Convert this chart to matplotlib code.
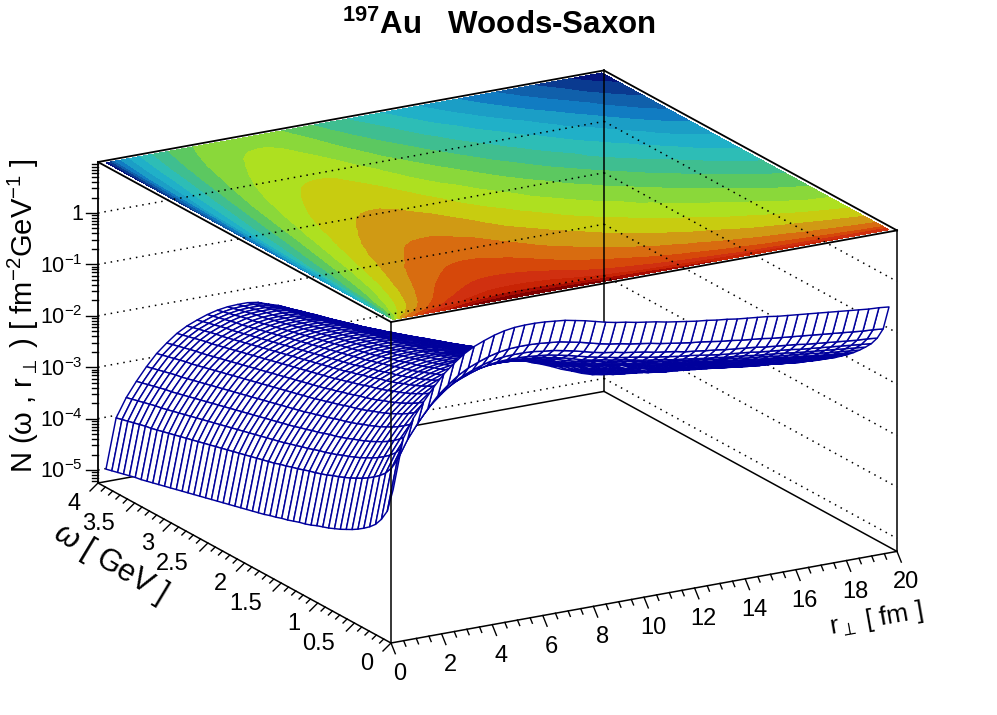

import matplotlib

matplotlib.use("Agg")
import matplotlib.pyplot as plt
import numpy as np
from matplotlib.collections import PolyCollection

r_bins = [0.2, 0.6, 1.0, 1.4, 1.8, 2.2, 2.6, 3.0, 3.4, 3.8, 4.2, 4.6, 5.0, 5.4, 5.8, 6.2, 6.6, 7.0, 7.4, 7.8,
          8.2, 8.6, 9.0, 9.4, 9.8, 10.2, 10.6, 11.0, 11.4, 11.8, 12.2, 12.6, 13.0, 13.4, 13.8, 14.2, 14.6, 15.0, 15.4, 15.8,
          16.2, 16.6, 17.0, 17.4, 17.8, 18.2, 18.6, 19.0, 19.4, 19.8]
w_bins = [0.04, 0.12, 0.20, 0.28, 0.36, 0.44, 0.52, 0.60, 0.68, 0.76, 0.84, 0.92, 1.00, 1.08, 1.16, 1.24, 1.32, 1.40, 1.48, 1.56,
          1.64, 1.72, 1.80, 1.88, 1.96, 2.04, 2.12, 2.20, 2.28, 2.36, 2.44, 2.52, 2.60, 2.68, 2.76, 2.84, 2.92, 3.00, 3.08, 3.16,
          3.24, 3.32, 3.40, 3.48, 3.56, 3.64, 3.72, 3.80, 3.88, 3.96]

# log10 N, one row per omega bin, one column per r bin
log_n = [
    [-2.32,-1.36,-1.00,-.72,-.47,-.25,-.08,.07,.18,.26,.33,.38,.41,.42,.42,.41,.39,.37,.33,.29,.24,.19,.15,.12,.08,.05,.02,-.02,-.05,-.08,-.11,-.13,-.16,-.18,-.21,-.23,-.25,-.27,-.30,-.32,-.34,-.36,-.38,-.40,-.42,-.44,-.46,-.48,-.49,-.51],
    [-2.80,-1.84,-1.48,-1.20,-.95,-.73,-.56,-.41,-.30,-.22,-.15,-.10,-.07,-.06,-.06,-.07,-.09,-.11,-.15,-.19,-.24,-.29,-.33,-.36,-.40,-.43,-.46,-.50,-.53,-.56,-.59,-.61,-.64,-.67,-.69,-.72,-.74,-.76,-.79,-.81,-.83,-.85,-.87,-.89,-.91,-.93,-.95,-.97,-.98,-1.00],
    [-3.02,-2.06,-1.70,-1.42,-1.17,-.95,-.78,-.63,-.52,-.44,-.37,-.32,-.29,-.28,-.28,-.29,-.32,-.34,-.38,-.42,-.47,-.52,-.56,-.59,-.63,-.66,-.69,-.73,-.76,-.79,-.83,-.85,-.88,-.90,-.93,-.95,-.97,-.99,-1.02,-1.04,-1.06,-1.08,-1.11,-1.13,-1.15,-1.17,-1.19,-1.21,-1.22,-1.24],
    [-3.18,-2.22,-1.86,-1.58,-1.33,-1.11,-.94,-.79,-.68,-.60,-.53,-.48,-.45,-.44,-.44,-.45,-.47,-.49,-.53,-.57,-.62,-.67,-.71,-.75,-.79,-.82,-.85,-.89,-.92,-.95,-.98,-1.00,-1.03,-1.06,-1.09,-1.11,-1.13,-1.15,-1.18,-1.20,-1.22,-1.24,-1.27,-1.29,-1.31,-1.33,-1.35,-1.37,-1.39,-1.41],
    [-3.29,-2.33,-1.97,-1.69,-1.44,-1.22,-1.05,-.90,-.79,-.71,-.64,-.59,-.56,-.55,-.55,-.56,-.58,-.60,-.64,-.68,-.73,-.79,-.83,-.86,-.90,-.93,-.97,-1.01,-1.04,-1.07,-1.11,-1.13,-1.16,-1.19,-1.21,-1.24,-1.26,-1.28,-1.31,-1.33,-1.35,-1.37,-1.40,-1.42,-1.44,-1.46,-1.48,-1.50,-1.52,-1.54],
    [-3.38,-2.42,-2.06,-1.78,-1.53,-1.31,-1.14,-.99,-.88,-.80,-.73,-.68,-.65,-.64,-.64,-.65,-.67,-.69,-.73,-.77,-.83,-.88,-.92,-.95,-1.00,-1.03,-1.06,-1.10,-1.14,-1.17,-1.20,-1.23,-1.26,-1.28,-1.31,-1.34,-1.36,-1.39,-1.42,-1.44,-1.46,-1.49,-1.51,-1.53,-1.55,-1.58,-1.60,-1.62,-1.64,-1.66],
    [-3.46,-2.50,-2.14,-1.86,-1.61,-1.39,-1.22,-1.07,-.96,-.88,-.81,-.76,-.73,-.72,-.72,-.73,-.75,-.78,-.82,-.86,-.92,-.97,-1.01,-1.05,-1.09,-1.12,-1.16,-1.20,-1.23,-1.26,-1.30,-1.32,-1.36,-1.38,-1.41,-1.44,-1.46,-1.49,-1.52,-1.55,-1.57,-1.59,-1.62,-1.64,-1.66,-1.69,-1.71,-1.73,-1.75,-1.77],
    [-3.53,-2.57,-2.21,-1.93,-1.68,-1.46,-1.29,-1.14,-1.03,-.95,-.88,-.83,-.80,-.79,-.79,-.80,-.82,-.85,-.89,-.94,-.99,-1.04,-1.09,-1.12,-1.17,-1.20,-1.23,-1.28,-1.31,-1.35,-1.38,-1.41,-1.44,-1.46,-1.50,-1.52,-1.55,-1.57,-1.61,-1.63,-1.66,-1.68,-1.71,-1.73,-1.76,-1.78,-1.81,-1.83,-1.85,-1.87],
    [-3.59,-2.63,-2.27,-1.99,-1.74,-1.52,-1.35,-1.20,-1.09,-1.01,-.94,-.89,-.86,-.85,-.85,-.86,-.88,-.91,-.95,-1.00,-1.05,-1.11,-1.15,-1.19,-1.23,-1.27,-1.30,-1.35,-1.38,-1.42,-1.45,-1.48,-1.51,-1.54,-1.58,-1.60,-1.63,-1.66,-1.69,-1.72,-1.74,-1.77,-1.80,-1.82,-1.85,-1.88,-1.90,-1.92,-1.94,-1.96],
    [-3.65,-2.69,-2.33,-2.05,-1.80,-1.58,-1.41,-1.26,-1.15,-1.07,-1.00,-.95,-.92,-.91,-.91,-.92,-.94,-.97,-1.02,-1.06,-1.12,-1.17,-1.21,-1.25,-1.30,-1.33,-1.37,-1.41,-1.45,-1.49,-1.52,-1.55,-1.59,-1.62,-1.65,-1.68,-1.71,-1.73,-1.77,-1.80,-1.82,-1.85,-1.88,-1.91,-1.93,-1.96,-1.99,-2.01,-2.03,-2.05],
    [-3.70,-2.74,-2.38,-2.10,-1.85,-1.63,-1.46,-1.31,-1.20,-1.12,-1.05,-1.00,-.97,-.96,-.96,-.97,-1.00,-1.02,-1.07,-1.12,-1.17,-1.23,-1.27,-1.31,-1.36,-1.39,-1.43,-1.47,-1.51,-1.55,-1.59,-1.62,-1.65,-1.68,-1.72,-1.74,-1.78,-1.80,-1.84,-1.87,-1.90,-1.93,-1.96,-1.99,-2.01,-2.04,-2.07,-2.10,-2.11,-2.13],
    [-3.75,-2.79,-2.43,-2.15,-1.90,-1.68,-1.51,-1.36,-1.25,-1.17,-1.10,-1.05,-1.02,-1.01,-1.01,-1.02,-1.05,-1.07,-1.12,-1.17,-1.22,-1.28,-1.32,-1.36,-1.41,-1.44,-1.48,-1.53,-1.57,-1.60,-1.64,-1.67,-1.71,-1.74,-1.78,-1.81,-1.84,-1.87,-1.91,-1.94,-1.97,-2.00,-2.03,-2.06,-2.09,-2.12,-2.15,-2.18,-2.19,-2.21],
    [-3.79,-2.83,-2.47,-2.19,-1.94,-1.72,-1.55,-1.40,-1.29,-1.21,-1.14,-1.09,-1.06,-1.05,-1.05,-1.07,-1.09,-1.12,-1.17,-1.22,-1.27,-1.33,-1.38,-1.41,-1.46,-1.50,-1.54,-1.59,-1.63,-1.67,-1.71,-1.74,-1.78,-1.80,-1.84,-1.87,-1.90,-1.93,-1.97,-2.00,-2.03,-2.06,-2.09,-2.12,-2.15,-2.18,-2.21,-2.24,-2.26,-2.29],
    [-3.83,-2.88,-2.52,-2.24,-1.99,-1.77,-1.60,-1.45,-1.34,-1.26,-1.19,-1.14,-1.11,-1.10,-1.10,-1.11,-1.14,-1.17,-1.21,-1.26,-1.32,-1.38,-1.42,-1.46,-1.51,-1.55,-1.59,-1.64,-1.68,-1.72,-1.76,-1.79,-1.83,-1.86,-1.90,-1.93,-1.96,-1.99,-2.03,-2.06,-2.10,-2.13,-2.16,-2.19,-2.22,-2.25,-2.29,-2.32,-2.34,-2.37],
    [-3.88,-2.92,-2.56,-2.28,-2.03,-1.81,-1.64,-1.49,-1.38,-1.30,-1.23,-1.18,-1.15,-1.14,-1.14,-1.15,-1.18,-1.21,-1.26,-1.31,-1.37,-1.43,-1.47,-1.51,-1.56,-1.60,-1.64,-1.69,-1.73,-1.77,-1.81,-1.85,-1.89,-1.92,-1.96,-1.99,-2.02,-2.06,-2.10,-2.13,-2.16,-2.20,-2.23,-2.26,-2.30,-2.33,-2.36,-2.40,-2.42,-2.44],
    [-3.92,-2.96,-2.60,-2.32,-2.07,-1.85,-1.68,-1.53,-1.42,-1.34,-1.27,-1.22,-1.19,-1.18,-1.18,-1.19,-1.22,-1.25,-1.30,-1.35,-1.41,-1.47,-1.52,-1.56,-1.61,-1.65,-1.69,-1.74,-1.78,-1.83,-1.87,-1.90,-1.94,-1.98,-2.02,-2.05,-2.09,-2.12,-2.16,-2.19,-2.23,-2.26,-2.30,-2.33,-2.37,-2.40,-2.44,-2.47,-2.50,-2.52],
    [-3.95,-2.99,-2.63,-2.35,-2.10,-1.88,-1.71,-1.56,-1.45,-1.37,-1.30,-1.25,-1.22,-1.21,-1.21,-1.23,-1.26,-1.29,-1.34,-1.39,-1.45,-1.52,-1.56,-1.61,-1.66,-1.70,-1.74,-1.79,-1.84,-1.88,-1.93,-1.96,-2.00,-2.04,-2.08,-2.11,-2.15,-2.18,-2.23,-2.26,-2.30,-2.34,-2.37,-2.40,-2.43,-2.47,-2.50,-2.54,-2.56,-2.59],
    [-3.99,-3.03,-2.67,-2.39,-2.14,-1.92,-1.75,-1.60,-1.49,-1.41,-1.34,-1.29,-1.26,-1.25,-1.25,-1.27,-1.30,-1.33,-1.38,-1.44,-1.50,-1.56,-1.61,-1.66,-1.71,-1.75,-1.79,-1.85,-1.89,-1.94,-1.98,-2.01,-2.06,-2.09,-2.14,-2.17,-2.20,-2.24,-2.28,-2.32,-2.35,-2.39,-2.42,-2.46,-2.49,-2.54,-2.57,-2.61,-2.64,-2.66],
    [-4.03,-3.07,-2.71,-2.43,-2.18,-1.96,-1.79,-1.64,-1.53,-1.45,-1.38,-1.33,-1.30,-1.29,-1.29,-1.31,-1.34,-1.37,-1.42,-1.48,-1.54,-1.60,-1.66,-1.70,-1.75,-1.80,-1.84,-1.90,-1.94,-1.99,-2.03,-2.06,-2.11,-2.14,-2.19,-2.22,-2.26,-2.30,-2.34,-2.38,-2.41,-2.45,-2.49,-2.52,-2.56,-2.60,-2.64,-2.68,-2.70,-2.73],
    [-4.06,-3.10,-2.74,-2.46,-2.21,-1.99,-1.82,-1.67,-1.56,-1.48,-1.41,-1.36,-1.33,-1.32,-1.32,-1.34,-1.37,-1.41,-1.46,-1.52,-1.58,-1.64,-1.70,-1.74,-1.79,-1.84,-1.89,-1.94,-1.99,-2.03,-2.08,-2.12,-2.16,-2.20,-2.24,-2.28,-2.32,-2.35,-2.40,-2.44,-2.48,-2.51,-2.55,-2.59,-2.62,-2.67,-2.71,-2.75,-2.77,-2.80],
    [-4.10,-3.14,-2.78,-2.50,-2.25,-2.03,-1.86,-1.71,-1.60,-1.52,-1.45,-1.40,-1.37,-1.36,-1.36,-1.38,-1.41,-1.45,-1.50,-1.55,-1.62,-1.68,-1.74,-1.78,-1.84,-1.88,-1.93,-1.99,-2.04,-2.08,-2.13,-2.17,-2.21,-2.25,-2.30,-2.34,-2.37,-2.41,-2.46,-2.50,-2.54,-2.58,-2.62,-2.65,-2.69,-2.74,-2.78,-2.82,-2.85,-2.87],
    [-4.13,-3.17,-2.81,-2.53,-2.28,-2.06,-1.89,-1.74,-1.63,-1.55,-1.48,-1.43,-1.40,-1.39,-1.39,-1.41,-1.44,-1.48,-1.54,-1.59,-1.66,-1.72,-1.78,-1.82,-1.88,-1.93,-1.97,-2.03,-2.08,-2.13,-2.18,-2.22,-2.26,-2.30,-2.35,-2.39,-2.43,-2.47,-2.52,-2.56,-2.60,-2.64,-2.68,-2.72,-2.76,-2.81,-2.84,-2.88,-2.91,-2.94],
    [-4.17,-3.21,-2.85,-2.57,-2.32,-2.10,-1.93,-1.78,-1.67,-1.59,-1.52,-1.47,-1.44,-1.43,-1.43,-1.44,-1.48,-1.52,-1.57,-1.63,-1.70,-1.76,-1.82,-1.87,-1.92,-1.97,-2.02,-2.08,-2.13,-2.18,-2.23,-2.27,-2.32,-2.36,-2.41,-2.45,-2.49,-2.53,-2.58,-2.62,-2.66,-2.70,-2.74,-2.78,-2.82,-2.87,-2.91,-2.96,-2.99,-3.02],
    [-4.20,-3.24,-2.88,-2.60,-2.35,-2.13,-1.96,-1.81,-1.70,-1.62,-1.55,-1.50,-1.47,-1.46,-1.46,-1.48,-1.52,-1.55,-1.61,-1.67,-1.74,-1.80,-1.86,-1.91,-1.97,-2.02,-2.07,-2.13,-2.18,-2.23,-2.28,-2.32,-2.37,-2.41,-2.46,-2.50,-2.54,-2.59,-2.64,-2.68,-2.72,-2.76,-2.80,-2.85,-2.89,-2.94,-2.98,-3.03,-3.06,-3.09],
    [-4.23,-3.27,-2.91,-2.63,-2.38,-2.16,-1.99,-1.84,-1.73,-1.65,-1.58,-1.53,-1.50,-1.49,-1.49,-1.51,-1.55,-1.59,-1.65,-1.71,-1.77,-1.84,-1.90,-1.95,-2.01,-2.06,-2.11,-2.17,-2.22,-2.28,-2.33,-2.37,-2.42,-2.46,-2.51,-2.55,-2.60,-2.64,-2.69,-2.74,-2.78,-2.83,-2.87,-2.91,-2.95,-3.01,-3.05,-3.09,-3.13,-3.16],
    [-4.26,-3.30,-2.94,-2.66,-2.41,-2.19,-2.02,-1.87,-1.76,-1.68,-1.61,-1.56,-1.53,-1.52,-1.52,-1.54,-1.58,-1.62,-1.68,-1.74,-1.81,-1.88,-1.94,-1.99,-2.05,-2.10,-2.15,-2.22,-2.27,-2.32,-2.37,-2.42,-2.47,-2.51,-2.56,-2.61,-2.65,-2.70,-2.75,-2.79,-2.84,-2.88,-2.93,-2.97,-3.01,-3.07,-3.12,-3.16,-3.20,-3.23],
    [-4.29,-3.33,-2.97,-2.69,-2.44,-2.22,-2.05,-1.90,-1.79,-1.71,-1.64,-1.59,-1.56,-1.55,-1.55,-1.57,-1.61,-1.65,-1.71,-1.77,-1.84,-1.92,-1.98,-2.03,-2.09,-2.14,-2.19,-2.26,-2.31,-2.37,-2.41,-2.47,-2.51,-2.56,-2.61,-2.66,-2.71,-2.75,-2.81,-2.85,-2.90,-2.95,-2.99,-3.04,-3.08,-3.14,-3.19,-3.23,-3.27,-3.30],
    [-4.32,-3.36,-3.00,-2.72,-2.47,-2.25,-2.08,-1.93,-1.82,-1.74,-1.67,-1.62,-1.59,-1.58,-1.58,-1.60,-1.64,-1.69,-1.75,-1.81,-1.88,-1.95,-2.01,-2.06,-2.13,-2.18,-2.23,-2.30,-2.36,-2.41,-2.46,-2.52,-2.56,-2.61,-2.67,-2.72,-2.77,-2.81,-2.87,-2.92,-2.97,-3.02,-3.06,-3.11,-3.15,-3.21,-3.26,-3.30,-3.34,-3.36],
    [-4.35,-3.39,-3.03,-2.75,-2.50,-2.28,-2.11,-1.96,-1.85,-1.77,-1.70,-1.65,-1.62,-1.61,-1.61,-1.63,-1.67,-1.72,-1.78,-1.85,-1.92,-1.99,-2.05,-2.10,-2.17,-2.22,-2.27,-2.34,-2.40,-2.46,-2.51,-2.57,-2.62,-2.67,-2.72,-2.78,-2.83,-2.87,-2.93,-2.98,-3.03,-3.08,-3.12,-3.17,-3.21,-3.27,-3.32,-3.37,-3.40,-3.43],
    [-4.38,-3.42,-3.06,-2.78,-2.53,-2.31,-2.14,-1.99,-1.88,-1.80,-1.73,-1.68,-1.65,-1.64,-1.64,-1.66,-1.71,-1.75,-1.82,-1.88,-1.96,-2.03,-2.09,-2.14,-2.21,-2.26,-2.32,-2.39,-2.45,-2.50,-2.56,-2.62,-2.67,-2.73,-2.78,-2.84,-2.89,-2.94,-3.00,-3.05,-3.10,-3.14,-3.18,-3.23,-3.27,-3.33,-3.38,-3.43,-3.47,-3.50],
    [-4.41,-3.45,-3.09,-2.81,-2.56,-2.34,-2.17,-2.02,-1.91,-1.83,-1.76,-1.71,-1.68,-1.67,-1.67,-1.69,-1.74,-1.78,-1.85,-1.92,-2.00,-2.07,-2.13,-2.18,-2.25,-2.30,-2.36,-2.43,-2.49,-2.55,-2.61,-2.67,-2.72,-2.78,-2.84,-2.90,-2.95,-3.00,-3.05,-3.10,-3.15,-3.20,-3.25,-3.29,-3.33,-3.40,-3.44,-3.50,-3.53,-3.57],
    [-4.44,-3.48,-3.12,-2.84,-2.59,-2.37,-2.20,-2.05,-1.94,-1.86,-1.79,-1.74,-1.71,-1.70,-1.70,-1.72,-1.77,-1.82,-1.88,-1.95,-2.03,-2.10,-2.17,-2.23,-2.29,-2.35,-2.41,-2.48,-2.54,-2.60,-2.66,-2.71,-2.77,-2.81,-2.87,-2.92,-2.98,-3.03,-3.09,-3.14,-3.19,-3.24,-3.29,-3.34,-3.39,-3.46,-3.51,-3.56,-3.60,-3.64],
    [-4.47,-3.51,-3.15,-2.87,-2.62,-2.40,-2.23,-2.08,-1.97,-1.89,-1.82,-1.77,-1.74,-1.73,-1.73,-1.76,-1.80,-1.85,-1.92,-1.99,-2.06,-2.14,-2.21,-2.27,-2.33,-2.39,-2.45,-2.52,-2.58,-2.64,-2.70,-2.75,-2.82,-2.87,-2.93,-2.98,-3.03,-3.08,-3.14,-3.20,-3.25,-3.30,-3.35,-3.41,-3.46,-3.53,-3.58,-3.63,-3.67,-3.71],
    [-4.50,-3.54,-3.18,-2.90,-2.65,-2.43,-2.26,-2.11,-2.00,-1.92,-1.85,-1.80,-1.77,-1.76,-1.76,-1.78,-1.83,-1.88,-1.95,-2.02,-2.10,-2.18,-2.25,-2.30,-2.37,-2.43,-2.49,-2.57,-2.63,-2.69,-2.75,-2.80,-2.86,-2.92,-2.98,-3.03,-3.08,-3.14,-3.20,-3.25,-3.31,-3.36,-3.41,-3.47,-3.52,-3.59,-3.65,-3.70,-3.74,-3.78],
    [-4.53,-3.57,-3.21,-2.93,-2.68,-2.46,-2.29,-2.14,-2.03,-1.95,-1.88,-1.83,-1.80,-1.79,-1.79,-1.81,-1.86,-1.91,-1.98,-2.05,-2.13,-2.21,-2.28,-2.34,-2.41,-2.47,-2.54,-2.61,-2.67,-2.73,-2.80,-2.85,-2.91,-2.97,-3.03,-3.08,-3.14,-3.19,-3.26,-3.31,-3.37,-3.42,-3.48,-3.53,-3.58,-3.66,-3.71,-3.77,-3.81,-3.85],
    [-4.56,-3.60,-3.24,-2.96,-2.71,-2.49,-2.32,-2.17,-2.06,-1.98,-1.91,-1.86,-1.83,-1.82,-1.82,-1.84,-1.90,-1.95,-2.02,-2.09,-2.17,-2.25,-2.32,-2.38,-2.45,-2.51,-2.58,-2.65,-2.71,-2.78,-2.84,-2.90,-2.96,-3.01,-3.08,-3.13,-3.19,-3.25,-3.31,-3.37,-3.42,-3.48,-3.53,-3.59,-3.65,-3.72,-3.78,-3.83,-3.88,-3.92],
    [-4.59,-3.63,-3.27,-2.99,-2.74,-2.52,-2.35,-2.20,-2.09,-2.01,-1.94,-1.89,-1.86,-1.85,-1.85,-1.87,-1.93,-1.98,-2.05,-2.12,-2.20,-2.28,-2.36,-2.42,-2.49,-2.55,-2.62,-2.69,-2.76,-2.82,-2.89,-2.94,-3.01,-3.06,-3.13,-3.18,-3.24,-3.30,-3.36,-3.42,-3.48,-3.53,-3.59,-3.65,-3.71,-3.78,-3.84,-3.90,-3.95,-3.99],
    [-4.62,-3.66,-3.30,-3.02,-2.77,-2.55,-2.38,-2.23,-2.12,-2.04,-1.97,-1.92,-1.89,-1.88,-1.88,-1.90,-1.96,-2.01,-2.08,-2.16,-2.24,-2.32,-2.39,-2.46,-2.53,-2.59,-2.66,-2.74,-2.80,-2.87,-2.93,-2.99,-3.06,-3.11,-3.18,-3.23,-3.29,-3.35,-3.42,-3.48,-3.53,-3.59,-3.65,-3.71,-3.77,-3.85,-3.90,-3.97,-4.02,-4.06],
    [-4.65,-3.69,-3.33,-3.05,-2.80,-2.58,-2.41,-2.26,-2.15,-2.07,-2.00,-1.95,-1.92,-1.91,-1.91,-1.93,-1.99,-2.05,-2.12,-2.20,-2.28,-2.36,-2.43,-2.50,-2.57,-2.63,-2.71,-2.78,-2.85,-2.92,-2.98,-3.04,-3.11,-3.17,-3.24,-3.30,-3.36,-3.42,-3.49,-3.55,-3.61,-3.67,-3.73,-3.79,-3.85,-3.93,-3.98,-4.05,-4.10,-4.14],
    [-4.68,-3.72,-3.36,-3.08,-2.83,-2.61,-2.44,-2.29,-2.18,-2.10,-2.03,-1.98,-1.95,-1.94,-1.94,-1.97,-2.02,-2.08,-2.15,-2.23,-2.31,-2.40,-2.47,-2.54,-2.61,-2.68,-2.75,-2.82,-2.89,-2.96,-3.03,-3.09,-3.16,-3.21,-3.28,-3.34,-3.40,-3.46,-3.53,-3.59,-3.65,-3.71,-3.78,-3.84,-3.90,-3.98,-4.04,-4.11,-4.16,-4.20],
    [-4.71,-3.75,-3.39,-3.11,-2.86,-2.64,-2.47,-2.32,-2.21,-2.13,-2.06,-2.01,-1.98,-1.97,-1.97,-2.00,-2.05,-2.11,-2.18,-2.26,-2.35,-2.43,-2.51,-2.57,-2.65,-2.72,-2.79,-2.87,-2.94,-3.01,-3.08,-3.14,-3.21,-3.27,-3.33,-3.40,-3.46,-3.52,-3.59,-3.65,-3.71,-3.78,-3.84,-3.90,-3.96,-4.04,-4.11,-4.17,-4.23,-4.27],
    [-4.74,-3.78,-3.42,-3.14,-2.89,-2.67,-2.50,-2.35,-2.24,-2.16,-2.09,-2.04,-2.01,-2.00,-2.00,-2.03,-2.08,-2.14,-2.22,-2.30,-2.38,-2.47,-2.55,-2.62,-2.69,-2.76,-2.83,-2.91,-2.98,-3.05,-3.12,-3.19,-3.26,-3.32,-3.39,-3.45,-3.51,-3.57,-3.65,-3.71,-3.77,-3.84,-3.90,-3.96,-4.03,-4.11,-4.17,-4.24,-4.29,-4.34],
    [-4.77,-3.81,-3.45,-3.17,-2.92,-2.70,-2.53,-2.38,-2.27,-2.19,-2.12,-2.07,-2.04,-2.03,-2.03,-2.05,-2.11,-2.17,-2.25,-2.33,-2.42,-2.51,-2.59,-2.66,-2.73,-2.80,-2.88,-2.96,-3.03,-3.10,-3.17,-3.23,-3.31,-3.37,-3.44,-3.50,-3.57,-3.63,-3.70,-3.77,-3.83,-3.90,-3.96,-4.03,-4.09,-4.18,-4.24,-4.31,-4.36,-4.40],
    [-4.80,-3.84,-3.48,-3.20,-2.95,-2.73,-2.56,-2.41,-2.30,-2.22,-2.15,-2.10,-2.07,-2.06,-2.06,-2.08,-2.14,-2.20,-2.29,-2.37,-2.46,-2.55,-2.63,-2.70,-2.78,-2.85,-2.92,-3.00,-3.08,-3.15,-3.22,-3.28,-3.36,-3.42,-3.49,-3.56,-3.62,-3.69,-3.76,-3.83,-3.89,-3.96,-4.02,-4.09,-4.15,-4.24,-4.31,-4.37,-4.43,-4.47],
    [-4.82,-3.86,-3.50,-3.22,-2.97,-2.75,-2.58,-2.43,-2.32,-2.24,-2.17,-2.12,-2.09,-2.08,-2.08,-2.11,-2.17,-2.23,-2.32,-2.40,-2.49,-2.58,-2.66,-2.73,-2.81,-2.89,-2.96,-3.04,-3.12,-3.19,-3.27,-3.33,-3.41,-3.47,-3.55,-3.61,-3.68,-3.74,-3.82,-3.89,-3.95,-4.02,-4.08,-4.15,-4.22,-4.31,-4.37,-4.44,-4.50,-4.54],
    [-4.85,-3.89,-3.53,-3.25,-3.00,-2.78,-2.61,-2.46,-2.35,-2.27,-2.20,-2.15,-2.12,-2.11,-2.11,-2.14,-2.20,-2.27,-2.35,-2.43,-2.52,-2.61,-2.70,-2.77,-2.85,-2.92,-3.00,-3.09,-3.16,-3.24,-3.32,-3.38,-3.46,-3.52,-3.60,-3.67,-3.73,-3.80,-3.88,-3.95,-4.01,-4.08,-4.15,-4.21,-4.28,-4.37,-4.44,-4.51,-4.57,-4.61],
    [-4.88,-3.92,-3.56,-3.28,-3.03,-2.81,-2.64,-2.49,-2.38,-2.30,-2.23,-2.18,-2.15,-2.14,-2.14,-2.17,-2.23,-2.30,-2.38,-2.46,-2.56,-2.65,-2.73,-2.80,-2.89,-2.96,-3.04,-3.13,-3.21,-3.28,-3.36,-3.43,-3.51,-3.58,-3.65,-3.72,-3.79,-3.86,-3.94,-4.00,-4.07,-4.14,-4.21,-4.28,-4.34,-4.44,-4.51,-4.58,-4.63,-4.68],
    [-4.91,-3.95,-3.59,-3.31,-3.06,-2.84,-2.67,-2.52,-2.41,-2.33,-2.26,-2.21,-2.18,-2.17,-2.17,-2.20,-2.26,-2.33,-2.41,-2.50,-2.59,-2.69,-2.77,-2.84,-2.93,-3.00,-3.08,-3.17,-3.25,-3.33,-3.41,-3.47,-3.55,-3.62,-3.70,-3.77,-3.84,-3.91,-3.99,-4.06,-4.13,-4.20,-4.27,-4.34,-4.41,-4.50,-4.57,-4.64,-4.70,-4.75],
    [-4.94,-3.98,-3.62,-3.34,-3.09,-2.87,-2.70,-2.55,-2.44,-2.36,-2.29,-2.24,-2.21,-2.20,-2.20,-2.23,-2.30,-2.36,-2.45,-2.53,-2.63,-2.72,-2.81,-2.88,-2.97,-3.05,-3.12,-3.21,-3.29,-3.37,-3.45,-3.52,-3.60,-3.66,-3.74,-3.81,-3.89,-3.96,-4.04,-4.11,-4.18,-4.26,-4.33,-4.40,-4.47,-4.57,-4.64,-4.71,-4.77,-4.81],
    [-4.97,-4.01,-3.65,-3.37,-3.12,-2.90,-2.73,-2.58,-2.47,-2.39,-2.32,-2.27,-2.24,-2.23,-2.23,-2.26,-2.33,-2.39,-2.48,-2.57,-2.66,-2.76,-2.85,-2.92,-3.01,-3.09,-3.17,-3.26,-3.34,-3.41,-3.49,-3.56,-3.64,-3.71,-3.79,-3.86,-3.93,-4.01,-4.09,-4.17,-4.24,-4.31,-4.39,-4.46,-4.54,-4.63,-4.70,-4.78,-4.84,-4.88],
]

band_colors = ["#04147e", "#0a3a90", "#1060ab", "#117cc2", "#1b9ec6", "#20b0c8", "#2dbdb6", "#3fbe90", "#5cc860", "#8ad83a",
               "#aee020", "#c8cc10", "#d09a14", "#d86c10", "#d6480a", "#d03010", "#c82405", "#a80c02", "#7e0000"]

z_ticks = [-5, -4, -3, -2, -1, 0]
z_labels = ["$10^{-5}$", "$10^{-4}$", "$10^{-3}$", "$10^{-2}$", "$10^{-1}$", "1"]
r_ticks = [0, 2, 4, 6, 8, 10, 12, 14, 16, 18, 20]
w_ticks = [0, 0.5, 1, 1.5, 2, 2.5, 3, 3.5, 4]
w_labels = ["0", "0.5", "1", "1.5", "2", "2.5", "3", "3.5", "4"]

Z_LOW = -5.253
Z_HIGH = 0.992
BLUE = "#00009c"


def project(r, w, lz):
    # the ROOT view is a parallel projection, so pixel position is linear in (r, omega, log10 N)
    x = 391 + 25.3 * np.asarray(r) - 73.25 * np.asarray(w)
    y = 643 - 4.58 * np.asarray(r) - 40.0 * np.asarray(w) - 51.4 * (np.asarray(lz) - Z_LOW)
    return x, y


def seg(ax, a, b, **kw):
    xa, ya = project(*a)
    xb, yb = project(*b)
    style = dict(color="black", lw=1.1, solid_capstyle="projecting")
    style.update(kw)
    ax.plot([xa, xb], [ya, yb], **style)


def main() -> None:
    plt.rcParams["font.family"] = ["Liberation Sans", "DejaVu Sans"]
    plt.rcParams["mathtext.fontset"] = "custom"
    plt.rcParams["mathtext.rm"] = "Liberation Sans"
    plt.rcParams["mathtext.it"] = "Liberation Sans:italic"
    plt.rcParams["mathtext.bf"] = "Liberation Sans:bold"
    plt.rcParams["mathtext.default"] = "regular"

    fig = plt.figure(figsize=(9.97, 7.15), dpi=100)
    ax = fig.add_axes([0, 0, 1, 1])
    ax.set_xlim(0, 997)
    ax.set_ylim(715, 0)
    ax.axis("off")

    z = np.array(log_n)
    rr, ww = np.meshgrid(r_bins, w_bins)

    # contours on the top face
    px, py = project(rr, ww, Z_HIGH)
    levels = np.linspace(z.min(), z.max(), len(band_colors) + 1)
    ax.contourf(px, py, z, levels=levels, colors=band_colors, zorder=1)

    # walls and their decade grid
    dots = dict(color="black", lw=1.1, linestyle=(0, (1, 3.2)), zorder=2)
    for t in z_ticks:
        seg(ax, (0, 4, t), (20, 4, t), **dots)
        seg(ax, (20, 4, t), (20, 0, t), **dots)
    seg(ax, (0, 4, Z_LOW), (20, 4, Z_LOW), zorder=2)
    seg(ax, (20, 4, Z_LOW), (20, 0, Z_LOW), zorder=2)
    seg(ax, (20, 4, Z_LOW), (20, 4, Z_HIGH), zorder=2)

    # surface, painted from the far corner towards the viewer
    polys = []
    for j in range(len(r_bins) - 2, -1, -1):
        for i in range(len(w_bins) - 2, -1, -1):
            jj = [j, j + 1, j + 1, j]
            ii = [i, i, i + 1, i + 1]
            cx, cy = project(rr[ii, jj], ww[ii, jj], z[ii, jj])
            polys.append(np.column_stack([cx, cy]))
    ax.add_collection(PolyCollection(polys, facecolors="white", edgecolors=BLUE, linewidths=1.05, zorder=3))

    # box edges in front of the surface
    seg(ax, (0, 0, Z_LOW), (0, 0, Z_HIGH), zorder=4)
    seg(ax, (20, 0, Z_LOW), (20, 0, Z_HIGH), zorder=4)
    seg(ax, (0, 4, Z_LOW), (0, 4, Z_HIGH), zorder=4, lw=1.3)
    seg(ax, (0, 0, Z_LOW), (20, 0, Z_LOW), zorder=4)
    seg(ax, (0, 0, Z_LOW), (0, 4, Z_LOW), zorder=4)
    for a, b in [((0, 0), (20, 0)), ((0, 0), (0, 4)), ((20, 0), (20, 4)), ((0, 4), (20, 4))]:
        seg(ax, (a[0], a[1], Z_HIGH), (b[0], b[1], Z_HIGH), zorder=4, lw=1.3)

    # log axis ticks
    for t in range(-6, 1):
        for m in range(1, 10):
            lz = t + np.log10(m)
            if lz < Z_LOW or lz > Z_HIGH:
                continue
            x0, y0 = project(0, 4, lz)
            length = 12 if m == 1 else 6
            ax.plot([x0 - length, x0], [y0, y0], color="black", lw=1.0, zorder=4)
    for t, lab in zip(z_ticks, z_labels):
        x0, y0 = project(0, 4, t)
        ax.text(x0 - 15, y0 + 2, lab, ha="right", va="center", fontsize=15.5)

    # r axis
    for k in range(41):
        r = k * 0.5
        x0, y0 = project(r, 0, Z_LOW)
        major = k % 4 == 0
        dx, dy = (4.3, 10.7) if major else (2.2, 5.4)
        ax.plot([x0, x0 + dx], [y0, y0 + dy], color="black", lw=1.0, zorder=4)
    for r in r_ticks:
        x0, y0 = project(r, 0, Z_LOW)
        ax.text(x0 + 9, y0 + 31, str(r), ha="center", va="center", fontsize=17)

    # omega axis
    for k in range(41):
        w = k * 0.1
        x0, y0 = project(0, w, Z_LOW)
        major = k % 5 == 0
        dx, dy = (-8, 8) if major else (-4, 4)
        ax.plot([x0, x0 + dx], [y0, y0 + dy], color="black", lw=1.0, zorder=4)
    for w, lab in zip(w_ticks, w_labels):
        x0, y0 = project(0, w, Z_LOW)
        dx = -24 if len(lab) == 1 else -36
        ax.text(x0 + dx, y0 + 21, lab, ha="center", va="center", fontsize=17)

    # titles
    ax.text(499, 25, r"$^{\mathbf{197}}$Au   Woods-Saxon", ha="center", va="center", fontsize=22.5, fontweight="bold")
    ax.text(23, 316, r"N (ω , r$_{\perp}$ ) [ fm$^{-2}$GeV$^{-1}$ ]", rotation=90, ha="center", va="center", fontsize=21)
    ax.text(110, 563, r"$\mathit{\omega}$ [ GeV ]", rotation=-31, ha="center", va="center", fontsize=22)
    ax.text(876, 619, r"r$_{\perp}$ [ fm ]", rotation=10, ha="center", va="center", fontsize=19)

    fig.savefig("out.png", dpi=100)
    plt.close(fig)


if __name__ == "__main__":
    main()
